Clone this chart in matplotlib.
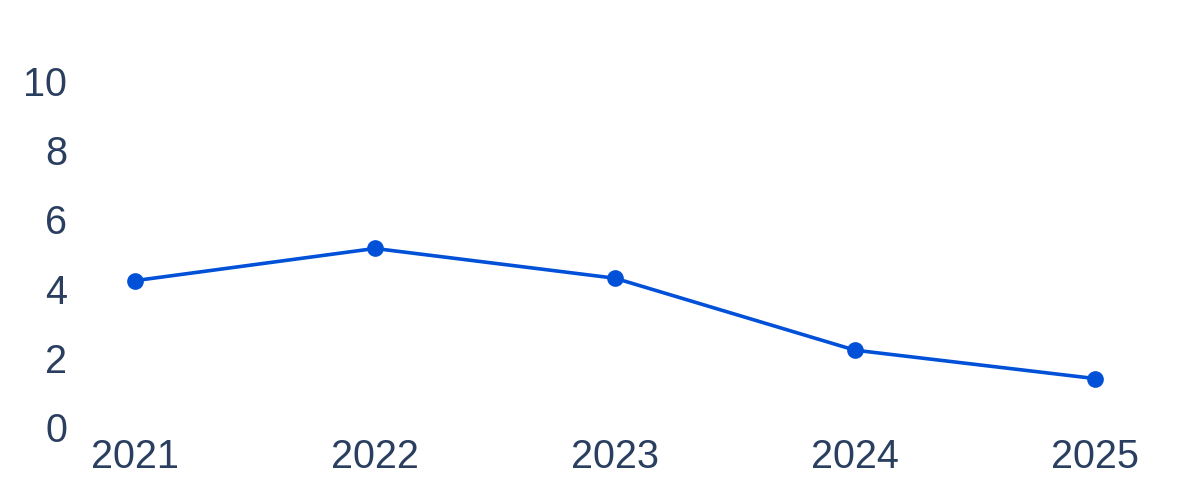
import matplotlib.pyplot as plt

plt.rcParams['font.family'] = ['Liberation Sans', 'DejaVu Sans']

years = [2021, 2022, 2023, 2024, 2025]
values = [4.23, 5.16, 4.30, 2.22, 1.40]
yticks = [0, 2, 4, 6, 8, 10]

line_color = '#0050d8'
text_color = '#2a3f5f'

fig = plt.figure(figsize=(12, 5), dpi=100)
ax = fig.add_axes([135 / 1200, 1 - 427 / 500, 960 / 1200, 346 / 500])

ax.plot(years, values, color=line_color, linewidth=2.6, marker='o',
        markersize=11, clip_on=False)

ax.set_xlim(2021, 2025)
ax.set_ylim(0, 10)
ax.set_xticks(years)
ax.set_xticklabels([str(y) for y in years])
ax.set_yticks(yticks)

ax.tick_params(axis='both', length=0, labelsize=28.5, labelcolor=text_color)
ax.tick_params(axis='y', pad=49)
ax.tick_params(axis='x', pad=8)

for s in ax.spines.values():
    s.set_visible(False)

fig.savefig('out.png', dpi=100, facecolor='white')
